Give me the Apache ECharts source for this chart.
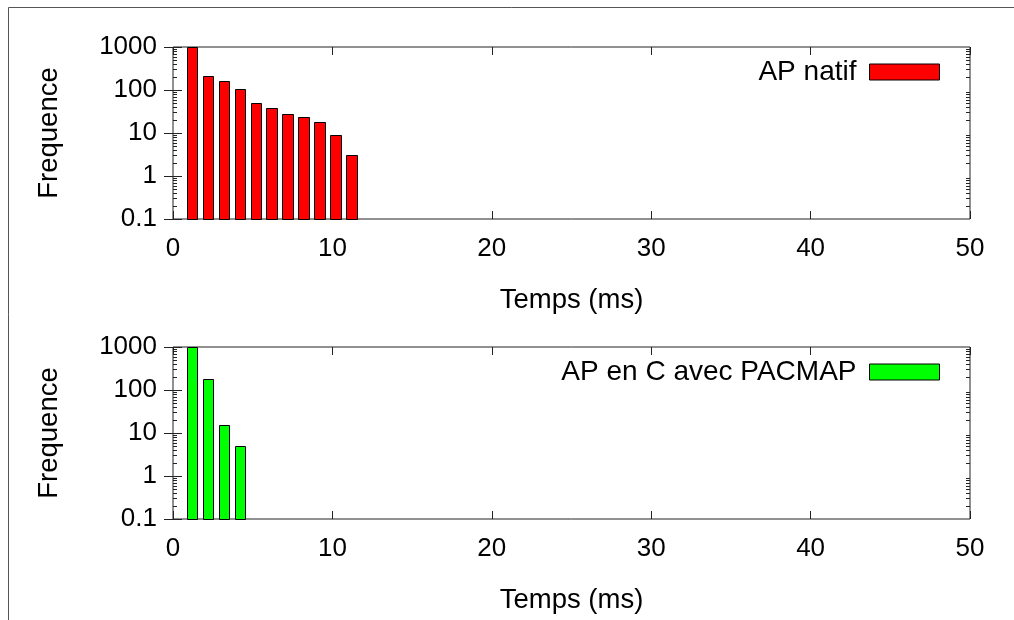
<!DOCTYPE html>
<html><head><meta charset="utf-8">
<script src="https://cdn.jsdelivr.net/npm/echarts@6/dist/echarts.min.js"></script>
<style>html,body{margin:0;padding:0;background:#fff}#c{width:1014px;height:620px}</style>
</head><body><div id="c"></div>
<script>
// ---- data ----
const xTicks = [0, 10, 20, 30, 40, 50];
const yTicks = [0.1, 1, 10, 100, 1000];
const temps1 = [1, 2, 3, 4, 5, 6, 7, 8, 9, 10, 11];
const freq1 = [1000, 216, 162, 108, 51, 39, 28, 23, 18, 9, 3];
const temps2 = [1, 2, 3, 4];
const freq2 = [1000, 184, 15, 5];
const label1 = 'AP natif';
const label2 = 'AP en C avec PACMAP';
const xName = 'Temps (ms)';
const yName = 'Frequence';

// ---- style ----
const FONT = '"Liberation Sans", Arial, Helvetica, sans-serif';
const FS = 26, FS_NAME = 27.5, FS_LEG = 28;
const AX = '#222';
const BAR_SHIFT = 0.19, BAR_W = 0.65;
const GRID_L = 173, GRID_W = 797, GRID_H = 172;
const TOPS = [47, 347];

const minorVals = [];
for (let k = -1; k < 3; k++) for (let m = 2; m <= 9; m++) minorVals.push(+(m * Math.pow(10, k)).toPrecision(3));

function barRender(params, api) {
  const x = api.value(0), y = api.value(1);
  const p1 = api.coord([x + BAR_SHIFT - BAR_W / 2, y]);
  const p2 = api.coord([x + BAR_SHIFT + BAR_W / 2, yTicks[0]]);
  const x1 = Math.round(p1[0]) + 0.5, y1 = Math.round(p1[1]) + 0.5;
  const x2 = Math.round(p2[0]) + 0.5, y2 = Math.round(p2[1]) + 0.5;
  return {
    type: 'rect',
    shape: { x: x1, y: y1, width: x2 - x1, height: y2 - y1 },
    style: { fill: api.visual('color'), stroke: '#000', lineWidth: 1 }
  };
}
function minorRender(params, api) {
  const v = api.value(1);
  const l = api.coord([xTicks[0], v]), r = api.coord([xTicks[xTicks.length - 1], v]);
  const y = Math.round(l[1]) + 0.5;
  return {
    type: 'group', children: [
      { type: 'line', shape: { x1: l[0], y1: y, x2: l[0] + 4, y2: y }, style: { stroke: AX, lineWidth: 1 } },
      { type: 'line', shape: { x1: r[0], y1: y, x2: r[0] - 4, y2: y }, style: { stroke: AX, lineWidth: 1 } }
    ]
  };
}

const grids = [], xAxes = [], yAxes = [], series = [], legends = [];
const panels = [
  { temps: temps1, freq: freq1, name: label1, color: '#ff0000' },
  { temps: temps2, freq: freq2, name: label2, color: '#00ff00' }
];
panels.forEach((p, i) => {
  grids.push({ left: GRID_L, top: TOPS[i], width: GRID_W, height: GRID_H, show: true, borderColor: AX, borderWidth: 1, backgroundColor: 'transparent' });
  const xBase = { type: 'value', gridIndex: i, min: xTicks[0], max: xTicks[xTicks.length - 1], interval: xTicks[1] - xTicks[0],
    axisLine: { show: false }, splitLine: { show: false },
    axisTick: { show: true, inside: true, length: 8, lineStyle: { color: AX } } };
  xAxes.push(Object.assign({}, xBase, { position: 'bottom',
    name: xName, nameLocation: 'middle', nameGap: 67, nameTextStyle: { fontSize: FS_NAME, fontFamily: FONT, color: '#000' },
    axisLabel: { show: true, margin: 17, fontSize: FS, fontFamily: FONT, color: '#000' } }));
  xAxes.push(Object.assign({}, xBase, { position: 'top', axisLabel: { show: false } }));
  const yBase = { type: 'log', logBase: 10, gridIndex: i, min: yTicks[0], max: yTicks[yTicks.length - 1], splitNumber: yTicks.length - 1,
    axisLine: { show: false }, splitLine: { show: false },
    axisTick: { show: true, inside: true, length: 9, lineStyle: { color: AX } } };
  yAxes.push(Object.assign({}, yBase, { position: 'left',
    name: yName, nameLocation: 'middle', nameGap: 110, nameRotate: 90, nameTextStyle: { fontSize: FS_NAME, fontFamily: FONT, color: '#000' },
    axisLabel: { show: true, margin: 16, fontSize: FS, fontFamily: FONT, color: '#000', formatter: v => String(+v.toPrecision(3)) } }));
  yAxes.push(Object.assign({}, yBase, { position: 'right', axisLabel: { show: false } }));
  series.push({
    type: 'custom', name: p.name, xAxisIndex: 2 * i, yAxisIndex: 2 * i, clip: false,
    itemStyle: { color: p.color, borderColor: '#000', borderWidth: 1 },
    renderItem: barRender,
    data: p.temps.map((t, j) => [t, p.freq[j]])
  });
  series.push({
    type: 'custom', name: 'minor' + i, xAxisIndex: 2 * i, yAxisIndex: 2 * i, clip: false, silent: true,
    renderItem: minorRender,
    data: minorVals.map(v => [xTicks[0], v])
  });
  legends.push({
    data: [{ name: p.name, itemStyle: { color: p.color, borderColor: '#000', borderWidth: 1 } }],
    right: 75 - 6, top: TOPS[i] + 6, align: 'right', orient: 'vertical',
    itemWidth: 70, itemHeight: 16, icon: 'rect', selectedMode: false,
    textStyle: { fontSize: FS_LEG, fontFamily: FONT, color: '#000', padding: [0, 8, 0, 0] }
  });
});

const chart = echarts.init(document.getElementById('c'), null, { renderer: 'canvas' });
chart.setOption({
  animation: false,
  backgroundColor: '#fff',
  grid: grids, xAxis: xAxes, yAxis: yAxes, series: series, legend: legends,
  graphic: [{ type: 'rect', shape: { x: 8.5, y: 7.5, width: 1200, height: 800 }, style: { fill: 'none', stroke: '#555', lineWidth: 1 }, silent: true, z: 100 }]
});
</script>
</body></html>
